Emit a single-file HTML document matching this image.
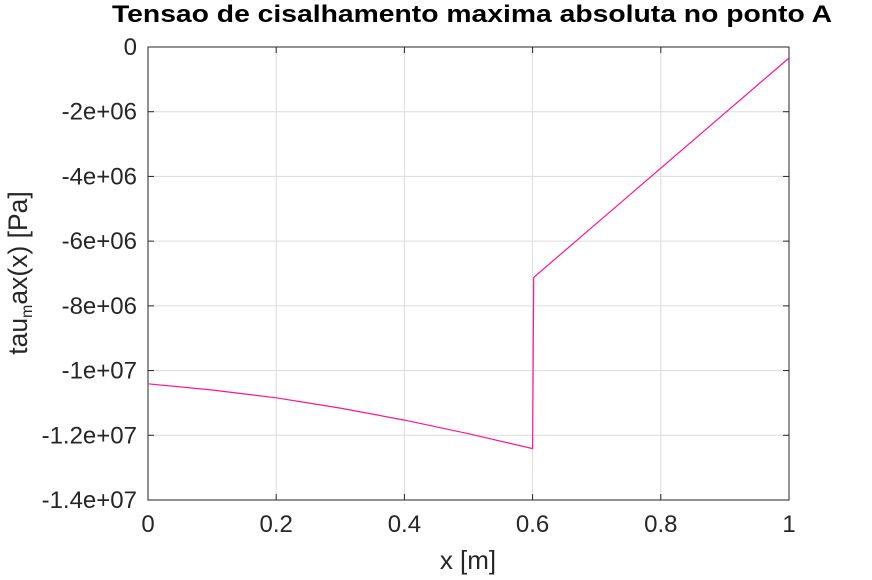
<!DOCTYPE html>
<html><head><meta charset="utf-8"><style>
body{margin:0;background:#fff;}
svg text{font-family:"Liberation Sans",sans-serif;fill:#262626;}
</style></head><body>
<svg width="872" height="575" xmlns="http://www.w3.org/2000/svg">
<g id="grid"></g>
<g id="axes"></g>
<path id="line" fill="none" stroke="#ff1493" stroke-width="1.2"/>
<text x="472" y="22" text-anchor="middle" font-size="24" font-weight="bold" textLength="720" lengthAdjust="spacingAndGlyphs" style="fill:#000">Tensao de cisalhamento maxima absoluta no ponto A</text>
<text x="468" y="569" text-anchor="middle" font-size="26">x [m]</text>
<text transform="translate(27,273) rotate(-90)" text-anchor="middle" font-size="26.5">tau<tspan font-size="16" dy="5">m</tspan><tspan dy="-5">ax(x) [Pa]</tspan></text>
</svg>
<script>
const xs = [0, 0.1, 0.2, 0.3, 0.4, 0.5, 0.6, 0.6017, 1];
const ys = [-1.041e7, -1.060e7, -1.084e7, -1.116e7, -1.153e7, -1.195e7, -1.241e7, -7.12e6, -3.4e5];
const xTicks = [0, 0.2, 0.4, 0.6, 0.8, 1];
const xTickLabels = ["0", "0.2", "0.4", "0.6", "0.8", "1"];
const yTicks = [0, -2e6, -4e6, -6e6, -8e6, -1e7, -1.2e7, -1.4e7];
const yTickLabels = ["0", "-2e+06", "-4e+06", "-6e+06", "-8e+06", "-1e+07", "-1.2e+07", "-1.4e+07"];
const L=148,R=789,T=47,B=500;
const sx=v=>L+(v-0)/(1-0)*(R-L);
const sy=v=>T+(0-v)/(1.4e7)*(B-T);
const NS="http://www.w3.org/2000/svg";
const grid=document.getElementById('grid'), axes=document.getElementById('axes');
function mk(tag,attrs,parent){const e=document.createElementNS(NS,tag);for(const k in attrs)e.setAttribute(k,attrs[k]);parent.appendChild(e);return e;}
xTicks.forEach((t,i)=>{
  const g=mk('line',{x1:sx(t),x2:sx(t),y1:T,y2:B,stroke:'#dcdcdc','stroke-width':1},grid);
  
  
  const tk=mk('line',{x1:sx(t),x2:sx(t),y1:B,y2:B-6,stroke:'#262626','stroke-width':1},axes);
  
  
  const tk2=mk('line',{x1:sx(t),x2:sx(t),y1:T,y2:T+6,stroke:'#262626','stroke-width':1},axes);
  
  
  const tx=mk('text',{x:sx(t),y:B+32,'text-anchor':'middle','font-size':24},axes);
  tx.textContent=xTickLabels[i];
  
  
});
yTicks.forEach((t,i)=>{
  const g=mk('line',{x1:L,x2:R,y1:sy(t),y2:sy(t),stroke:'#dcdcdc','stroke-width':1},grid);
  
  
  const tk=mk('line',{x1:L,x2:L+6,y1:sy(t),y2:sy(t),stroke:'#262626','stroke-width':1},axes);
  
  
  const tk2=mk('line',{x1:R,x2:R-6,y1:sy(t),y2:sy(t),stroke:'#262626','stroke-width':1},axes);
  
  
  const tx=mk('text',{x:L-11,y:sy(t)+8,'text-anchor':'end','font-size':24},axes);
  tx.textContent=yTickLabels[i];
  
  
});
const fr=mk('rect',{x:L,y:T,width:R-L,height:B-T,fill:'none',stroke:'#262626','stroke-width':1},axes);


document.getElementById('line').setAttribute('d',xs.map((x,i)=>(i?'L':'M')+sx(x).toFixed(1)+','+sy(ys[i]).toFixed(1)).join(' '));
</script>
</body></html>
